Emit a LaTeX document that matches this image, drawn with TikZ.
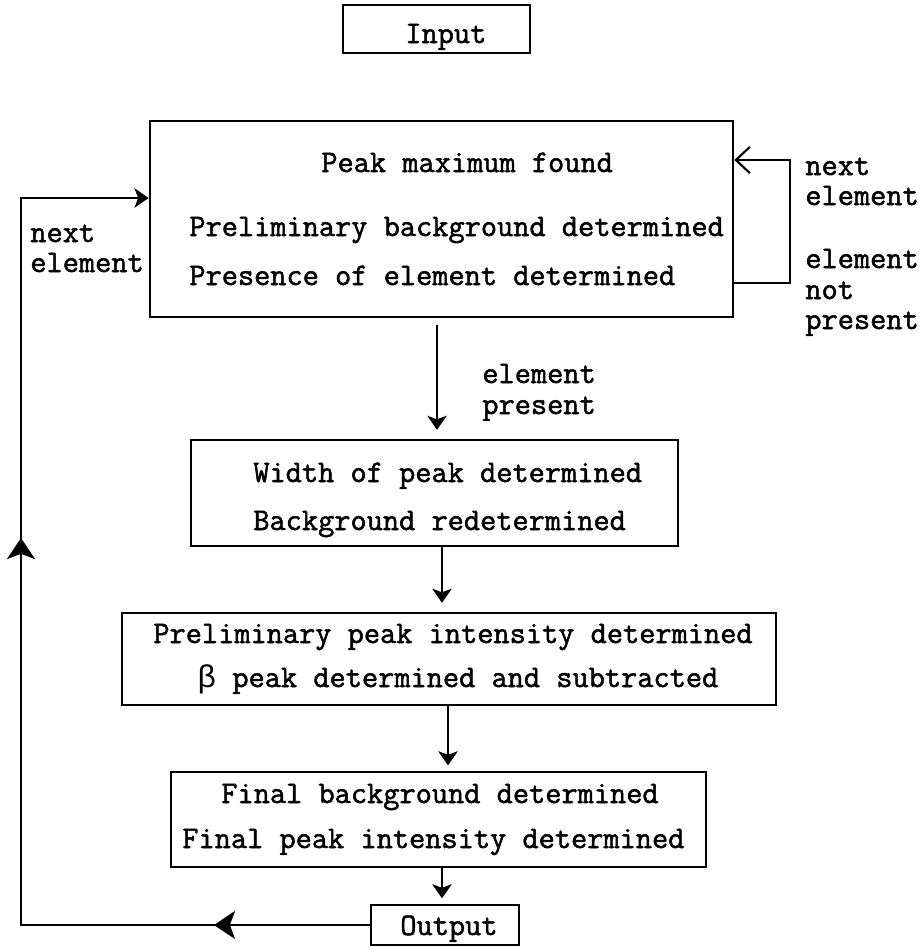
\documentclass[tikz,border=0pt]{standalone}
\usepackage{fontspec}
\setmonofont[FakeBold=1.6]{Latin Modern Mono}
\newfontfamily\grk{Liberation Mono}
\usetikzlibrary{arrows.meta}
\begin{document}
\begin{tikzpicture}[x=0.02cm, y=-0.02cm,
  box/.style={draw, rectangle, line width=1.6pt, inner sep=0pt},
  txt/.style={anchor=base west, inner sep=0pt, font=\ttfamily\fontsize{17.9}{20}\selectfont},
  conn/.style={line width=1.2pt},
  smalltip/.style={-{Stealth[length=8pt, width=11pt, inset=2pt]}},
  bigtip/.style={-{Stealth[length=12pt, width=16pt, inset=3pt]}},
  opentip/.style={-{Straight Barb[length=8pt, width=15pt]}}
]
\useasboundingbox (0,0) rectangle (921,948);

% boxes
\node[box, minimum width=3.74cm, minimum height=0.96cm] (inp) at (436.5,29) {};
\node[box, minimum width=11.66cm, minimum height=3.92cm] (main) at (441.5,219) {};
\node[box, minimum width=9.74cm, minimum height=2.12cm] (wid) at (434.5,493) {};
\node[box, minimum width=13.08cm, minimum height=1.84cm] (pre) at (449,659) {};
\node[box, minimum width=10.70cm, minimum height=1.90cm] (fin) at (438.5,819.5) {};
\node[box, minimum width=2.96cm, minimum height=0.80cm] (out) at (445,925) {};

% box texts
\node[txt] (tinp) at (405,43) {Input};
\node[txt] (tm1) at (321,172) {Peak maximum found};
\node[txt] (tm2) at (189,236) {Preliminary background determined};
\node[txt] (tm3) at (189,285) {Presence of element determined};
\node[txt] (tw1) at (253,482) {Width of peak determined};
\node[txt] (tw2) at (253,530) {Background redetermined};
\node[txt] (tp1) at (153,643) {Preliminary peak intensity determined};
\node[txt] (tp2) at (197,687) {{\grk β} peak determined and subtracted};
\node[txt] (tf1) at (221,803) {Final background determined};
\node[txt] (tf2) at (182,848) {Final peak intensity determined};
\node[txt] (tout) at (400,935) {Output};

% connector labels
\node[txt] (lr1) at (805,175) {next};
\node[txt] (lr2) at (805,205) {element};
\node[txt] (lr3) at (805,268) {element};
\node[txt] (lr4) at (805,299) {not};
\node[txt] (lr5) at (805,329) {present};
\node[txt] (ll1) at (30,242) {next};
\node[txt] (ll2) at (30,272) {element};
\node[txt] (lc1) at (482,383) {element};
\node[txt] (lc2) at (482,414) {present};

% main flow
\coordinate (x1) at (437,0);
\coordinate (x2) at (442,0);
\coordinate (x3) at (448,0);
\coordinate (x4) at (442,0);
\draw[conn, smalltip, shorten <=4pt, shorten >=5pt] (x1 |- main.south) -- (x1 |- wid.north);
\draw[conn, smalltip, shorten >=5pt] (x2 |- wid.south) -- (x2 |- pre.north);
\draw[conn, smalltip, shorten >=3pt] (x3 |- pre.south) -- (x3 |- fin.north);
\draw[conn, smalltip, shorten >=3pt] (x4 |- fin.south) -- (x4 |- out.north);

% element not present: loop on the right
\coordinate (r1) at (790,283);
\coordinate (r2) at (790,160);
\draw[conn, opentip] (main.east |- r1) -- (r1) -- (r2) -- (main.east |- r2);

% next element: loop on the left
\coordinate (bl) at (21,925);
\coordinate (tl) at (21,198);
\coordinate (m1) at (214,925);
\coordinate (m2) at (21,538);
\draw[conn, -{Stealth[length=8pt, width=11pt, inset=2pt]}] (out.west) -- (bl) -- (tl) -- (main.west |- tl);
\draw[conn, bigtip] (out.west) -- (m1);
\draw[conn, bigtip] (bl) -- (m2);
\end{tikzpicture}
\end{document}
